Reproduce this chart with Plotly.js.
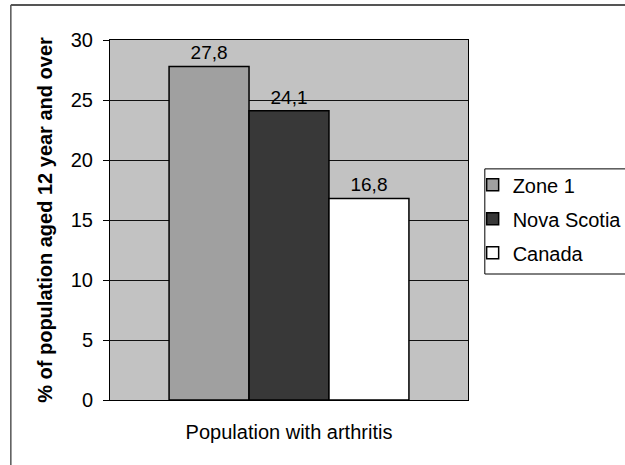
<!DOCTYPE html>
<html>
<head>
<meta charset="utf-8">
<script src="https://cdn.plot.ly/plotly-3.0.1.min.js"></script>
<style>
  body { margin: 0; background: #fff; }
  #graph { width: 625px; height: 465px; }
</style>
</head>
<body>
<div id="graph"></div>
<script>
const categories = ['Population with arthritis'];
const seriesNames = ['Zone 1', 'Nova Scotia', 'Canada'];
const zone1 = [27.8];
const novaScotia = [24.1];
const canada = [16.8];
const yTicks = [0, 5, 10, 15, 20, 25, 30];

const fills = ['#a0a0a0', '#383838', '#ffffff'];
const seriesValues = [zone1, novaScotia, canada];

const graphData = seriesNames.map((name, i) => ({
  type: 'bar',
  name: name,
  x: categories,
  y: seriesValues[i],
  legendgroup: name,
  marker: { color: fills[i], line: { color: '#000', width: 1.5 } },
  texttemplate: '%{y:.1f}',
  textposition: 'outside',
  cliponaxis: false,
  textfont: { family: 'Arial, Liberation Sans', size: 19, color: '#000' }
}));

// legend frame: drawn as a shape so the swatches can sit close to the border
const legendBox = { x0: 1.047, y0: 0.35, y1: 0.642 };

const layout = {
  width: 625,
  height: 465,
  separators: ', ',
  font: { family: 'Arial, Liberation Sans', size: 19, color: '#000' },
  paper_bgcolor: '#fff',
  plot_bgcolor: '#c2c2c2',
  margin: { l: 110, r: 157, t: 40, b: 65, autoexpand: false },
  barmode: 'group',
  bargap: 0.33,
  bargroupgap: 0,
  showlegend: true,
  legend: {
    x: 1.013, xanchor: 'left',
    y: 0.652, yanchor: 'top',
    borderwidth: 0,
    bgcolor: 'rgba(0,0,0,0)',
    traceorder: 'grouped',
    tracegroupgap: 5,
    itemwidth: 30,
    font: { size: 20 }
  },
  xaxis: {
    type: 'category',
    showgrid: false,
    showline: true, linecolor: '#000', linewidth: 1, mirror: true,
    ticks: '', ticklabelstandoff: 14,
    tickfont: { size: 20 }
  },
  yaxis: {
    range: [0, 30],
    tickvals: yTicks,
    ticks: 'outside', ticklen: 6, tickcolor: '#000',
    ticklabelstandoff: 6,
    showline: true, linecolor: '#000', linewidth: 1, mirror: true,
    gridcolor: '#111', gridwidth: 1,
    zeroline: false,
    tickfont: { size: 20 },
    title: {
      text: '<b>% of population aged 12 year and over</b>',
      font: { size: 20 },
      standoff: 12
    }
  },
  shapes: [
    { type: 'line', xref: 'paper', yref: 'paper', x0: -0.277, x1: 1.5, y0: 1.097, y1: 1.097,
      line: { color: '#555', width: 2 } },
    { type: 'line', xref: 'paper', yref: 'paper', x0: -0.277, x1: -0.277, y0: 1.097, y1: -0.2,
      line: { color: '#555', width: 1.5 } },
    { type: 'rect', xref: 'paper', yref: 'paper', x0: legendBox.x0, x1: 1.5,
      y0: legendBox.y0, y1: legendBox.y1, line: { color: '#000', width: 1 }, layer: 'below' }
  ]
};

Plotly.newPlot('graph', graphData, layout, { displayModeBar: false, staticPlot: true });
</script>
</body>
</html>
